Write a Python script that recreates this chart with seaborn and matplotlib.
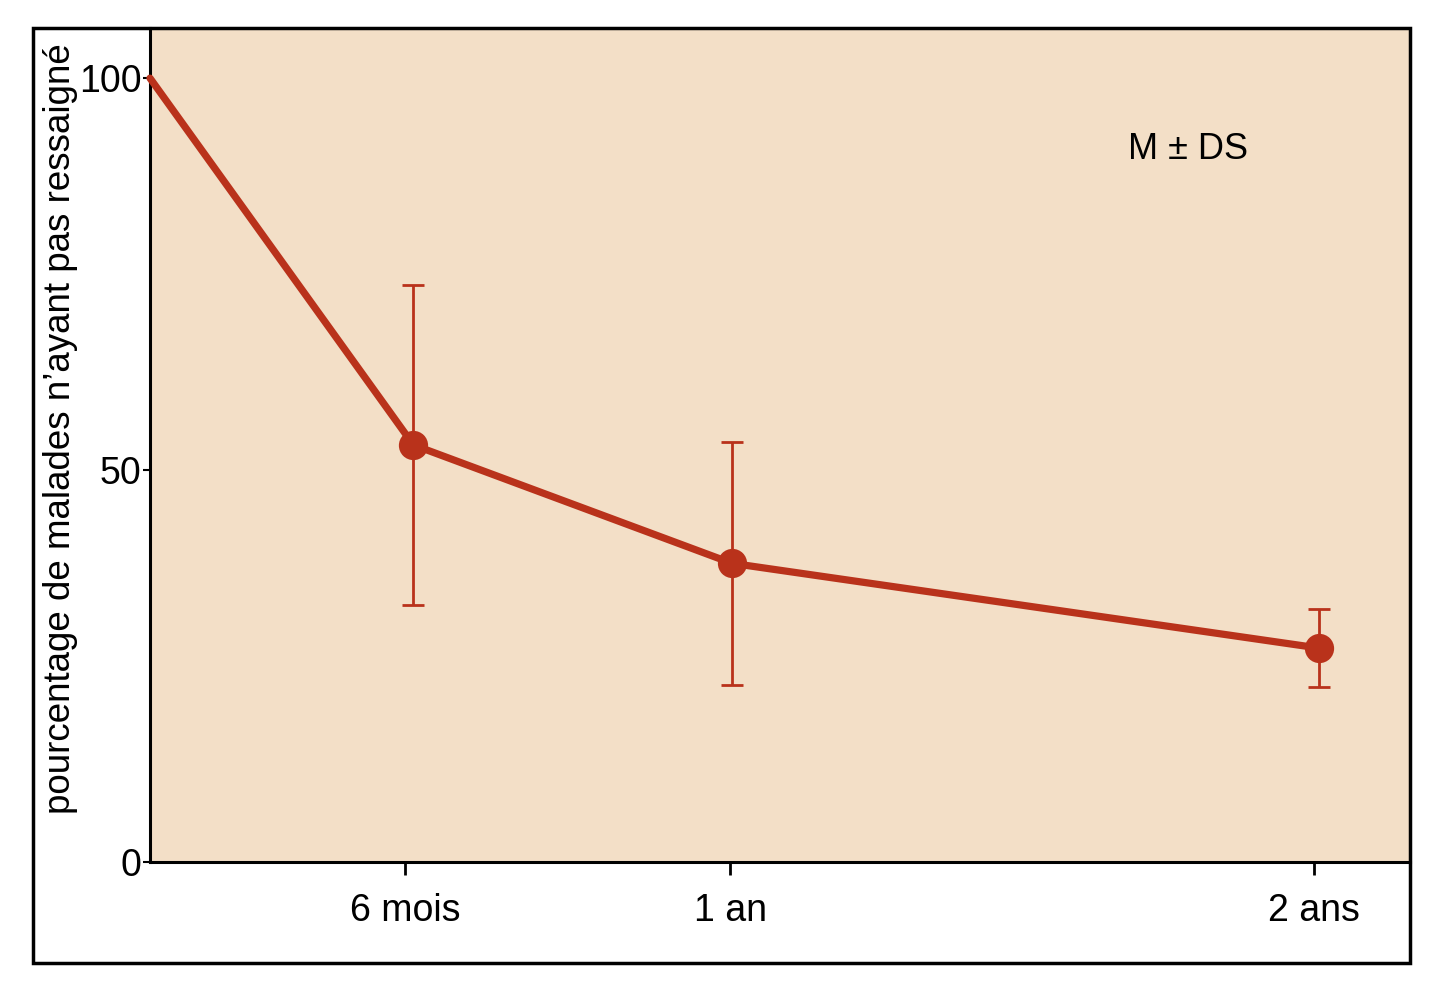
import numpy as np
import pandas as pd
import matplotlib
matplotlib.use("Agg")
import matplotlib.pyplot as plt
import seaborn as sns
from matplotlib.patches import Rectangle

# données
temps = [0, 6.2, 13.7, 27.5]            # position horizontale (échelle de la figure)
pourcentage = [100, 53.2, 38.1, 27.3]    # % de malades n'ayant pas ressaigné
ds = [0, 20.4, 15.5, 5.0]                # écart-type
tick_pos = [6.0, 13.65, 27.4]
tick_labels = ['6 mois', '1 an', '2 ans']
y_ticks = [0, 50, 100]

df = pd.DataFrame({'temps': temps, 'pourcentage': pourcentage, 'ds': ds})
pts = df.iloc[1:]

sns.set_theme(style='white')
plt.rcParams['font.family'] = ['Liberation Sans', 'DejaVu Sans']
plt.rcParams['text.color'] = 'black'
plt.rcParams['axes.labelcolor'] = 'black'
plt.rcParams['xtick.color'] = 'black'
plt.rcParams['ytick.color'] = 'black'

rouge = '#b9321b'
fond = '#f3dfc7'

fig = plt.figure(figsize=(14.36, 9.88), dpi=100)
ax = fig.add_axes([150 / 1436, 126 / 988, 1260 / 1436, 834 / 988])
ax.set_facecolor(fond)

# courbe
sns.lineplot(x='temps', y='pourcentage', data=df, color=rouge, linewidth=5.2,
             ax=ax, clip_on=False, zorder=3)
# barres d'erreur (M ± DS)
ax.errorbar(pts['temps'], pts['pourcentage'], yerr=pts['ds'], fmt='none',
            ecolor=rouge, elinewidth=2, capsize=8, capthick=2, zorder=2)
sns.scatterplot(x='temps', y='pourcentage', data=pts, color=rouge, s=380,
                edgecolor=rouge, ax=ax, zorder=4)

ax.set_xlim(0, 29.65)
ax.set_ylim(0, 106.4)
ax.set_xticks(tick_pos)
ax.set_xticklabels(tick_labels, fontsize=27)
ax.set_yticks(y_ticks)
ax.set_yticklabels([str(v) for v in y_ticks], fontsize=27)
ax.tick_params(axis='x', bottom=True, direction='out', length=9, width=2, pad=13)
ax.tick_params(axis='y', left=True, direction='out', length=5, width=1.5, pad=1)
ax.set_xlabel('')
ax.set_ylabel("pourcentage de malades n\u2019ayant pas ressaigné", fontsize=26.5)
ax.yaxis.set_label_coords(-0.057, 0.52)

for s in ['top', 'right']:
    ax.spines[s].set_visible(False)
for s in ['left', 'bottom']:
    ax.spines[s].set_color('black')
    ax.spines[s].set_linewidth(2.2)

ax.text(0.776, 0.854, 'M \u00b1 DS', transform=ax.transAxes, fontsize=26,
        ha='left', va='center', color='black')

# cadre extérieur
fig.patches.append(Rectangle((33 / 1436, 25 / 988), 1377 / 1436, 935 / 988,
                             transform=fig.transFigure, fill=False,
                             edgecolor='black', linewidth=2.5, zorder=10))

fig.savefig('out.png', dpi=100)
